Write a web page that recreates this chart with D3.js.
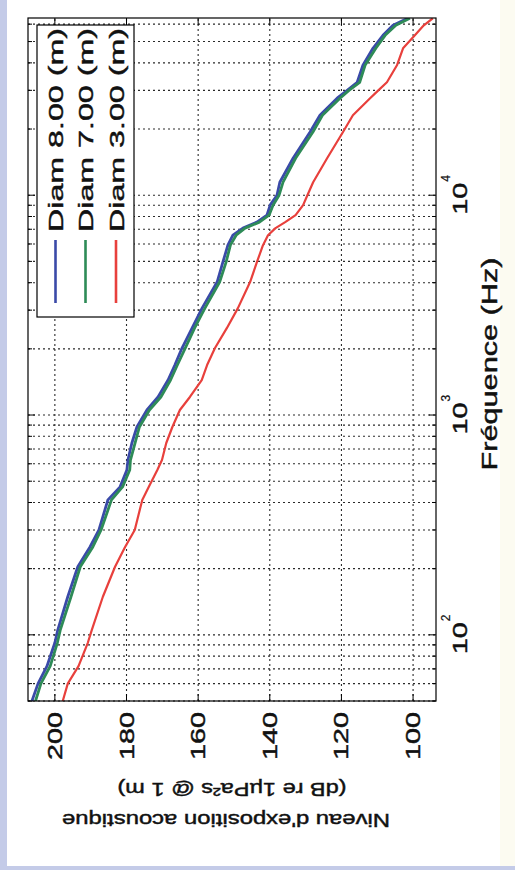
<!DOCTYPE html>
<html>
<head>
<meta charset="utf-8">
<script src="https://cdn.jsdelivr.net/npm/d3@7"></script>
<style>
  body { margin: 0; background: #fff; }
  svg { display: block; font-family: "Liberation Sans", Arial, sans-serif; }
  text { stroke: #111; stroke-width: 0.45px; }
</style>
</head>
<body>
<svg width="515" height="870"></svg>
<script>
// frequencies (Hz) shared by the three curves
let freqs = [50, 60, 72, 92, 105, 149, 204, 251, 300, 411, 471, 562, 624, 746, 882,
    1054, 1208, 1443, 1688, 2017, 2484, 3063, 4027, 4958, 5927, 6579, 7085, 7540,
    8110, 9010, 10000, 11460, 14730, 19330, 23100, 27620, 30000, 32640, 39000,
    46600, 53380, 59260, 63800];

// exposure level, dB re 1uPa^2s @ 1 m
let diam8 = [206.4, 204.7, 202.2, 200.0, 199.2, 196.4, 193.6, 190.2, 187.7, 185.2, 181.8,
    179.9, 179.6, 178.5, 177.1, 174.3, 171.2, 168.4, 166.5, 164.5, 161.7, 158.9, 154.7,
    153.1, 151.7, 150.3, 147.5, 143.6, 140.8, 139.9, 138.0, 137.2, 133.5, 128.8, 126.0,
    121.2, 118.4, 115.6, 114.0, 111.2, 108.4, 105.6, 101.5];
let diam7 = [205.4, 203.9, 201.3, 199.3, 198.5, 195.5, 192.9, 189.4, 187.1, 184.2, 181.1,
    179.1, 178.9, 177.6, 176.4, 173.6, 170.4, 167.7, 165.8, 163.6, 161.0, 158.1, 154.0,
    152.2, 151.0, 149.4, 146.9, 142.9, 140.2, 139.1, 137.4, 136.3, 132.8, 128.0, 125.3,
    120.4, 117.9, 114.9, 113.4, 110.4, 107.8, 104.8, 100.9];
let diam3 = [197.8, 196.4, 193.4, 190.8, 189.7, 186.6, 183.2, 180.4, 177.7, 175.6, 173.8,
    171.4, 170.1, 168.9, 167.2, 165.1, 162.3, 159.0, 157.5, 155.3, 152.0, 148.9, 145.5,
    143.6, 141.9, 140.5, 138.4, 135.7, 132.8, 130.7, 129.5, 127.9, 124.0, 119.6, 116.8,
    112.0, 109.7, 107.3, 104.5, 102.8, 99.5, 97.0, 94.5];

let seriesNames = ["Diam 8.00 (m)", "Diam 7.00 (m)", "Diam 3.00 (m)"];
let seriesColors = ["#3a4aa8", "#2e8b57", "#e8403c"];

let dbTicks = [100, 120, 140, 160, 180, 200];
let decades = [100, 1000, 10000];
let decadeExp = ["2", "3", "4"];

let xLabel = "Fréquence (Hz)";
let yLabel1 = "Niveau d'exposition acoustique";
let yLabel2 = "(dB re 1µPa²s @ 1 m)";

// plot drawn in its own frame, then turned a quarter turn
let W = 683, H = 408;

let x = d3.scaleLog().domain([50, 64000]).range([0, W]);
let y = d3.scaleLinear().domain([207.5, 93.6]).range([0, H]);

let svg = d3.select("svg");

// page background pieces
svg.append("rect").attr("x", 500).attr("y", 0).attr("width", 15).attr("height", 870).attr("fill", "#fcfbf1");
svg.append("rect").attr("x", 0).attr("y", 0).attr("width", 7).attr("height", 870).attr("fill", "#c4cbe8");
svg.append("rect").attr("x", 0).attr("y", 866).attr("width", 515).attr("height", 4).attr("fill", "#c4cbe8");

let g = svg.append("g").attr("transform", "translate(28,701) rotate(-90)");

g.append("rect").attr("width", W).attr("height", H).attr("fill", "#fff");

g.append("clipPath").attr("id", "clip")
    .append("rect").attr("width", W).attr("height", H);

// grid
let grid = g.append("g")
    .attr("stroke", "#2a2a2a")
    .attr("stroke-width", 1.1)
    .attr("stroke-dasharray", "2,3");

grid.selectAll(".gx")
    .data(x.ticks())
    .enter().append("line")
    .attr("x1", d => x(d)).attr("x2", d => x(d))
    .attr("y1", 0).attr("y2", H);

grid.selectAll(".gy")
    .data(dbTicks)
    .enter().append("line")
    .attr("x1", 0).attr("x2", W)
    .attr("y1", d => y(d)).attr("y2", d => y(d));

// tick marks, inside, all four sides
let ticks = g.append("g").attr("stroke", "#000").attr("stroke-width", 1);
x.ticks().forEach(t => {
    let len = decades.includes(t) ? 7 : 4;
    ticks.append("line").attr("x1", x(t)).attr("x2", x(t)).attr("y1", H).attr("y2", H - len);
    ticks.append("line").attr("x1", x(t)).attr("x2", x(t)).attr("y1", 0).attr("y2", len);
});
dbTicks.forEach(t => {
    ticks.append("line").attr("x1", 0).attr("x2", 7).attr("y1", y(t)).attr("y2", y(t));
    ticks.append("line").attr("x1", W).attr("x2", W - 7).attr("y1", y(t)).attr("y2", y(t));
});

// curves
let line = d3.line()
    .x((d, i) => x(freqs[i]))
    .y(d => y(d));

let series = [diam8, diam7, diam3];

g.append("g").attr("clip-path", "url(#clip)")
    .selectAll("path")
    .data(series)
    .enter().append("path")
    .attr("d", line)
    .attr("fill", "none")
    .attr("stroke", (d, i) => seriesColors[i])
    .attr("stroke-width", (d, i) => i == 2 ? 2.2 : 2.8)
    .attr("stroke-linejoin", "round");

g.append("rect")
    .attr("width", W).attr("height", H)
    .attr("fill", "none").attr("stroke", "#000").attr("stroke-width", 1.2);

// dB tick labels
g.selectAll(".ylab")
    .data(dbTicks)
    .enter().append("text")
    .attr("x", -11)
    .attr("y", d => y(d) + 7)
    .attr("text-anchor", "end")
    .attr("font-size", 20)
    .attr("textLength", 48)
    .attr("lengthAdjust", "spacingAndGlyphs")
    .attr("fill", "#111")
    .text(d => d);

// decade labels 10^n
decades.forEach((d, i) => {
    g.append("text")
        .attr("x", x(d) + 12.5)
        .attr("y", H + 31)
        .attr("text-anchor", "end")
        .attr("font-size", 21)
        .attr("textLength", 32)
        .attr("lengthAdjust", "spacingAndGlyphs")
        .attr("fill", "#111")
        .text("10");
    g.append("text")
        .attr("x", x(d) + 13.5)
        .attr("y", H + 14)
        .attr("font-size", 12)
        .attr("fill", "#111")
        .style("stroke-width", "0.2px")
        .text(decadeExp[i]);
});

g.append("text")
    .attr("x", 337)
    .attr("y", H + 61)
    .attr("text-anchor", "middle")
    .attr("font-size", 22)
    .attr("textLength", 213)
    .attr("lengthAdjust", "spacingAndGlyphs")
    .attr("fill", "#111")
    .text(xLabel);

g.append("text")
    .attr("transform", "translate(-113,198) rotate(-90)")
    .attr("text-anchor", "middle")
    .attr("font-size", 19)
    .attr("textLength", 328)
    .attr("lengthAdjust", "spacingAndGlyphs")
    .attr("fill", "#111")
    .text(yLabel1);

g.append("text")
    .attr("transform", "translate(-82,204) rotate(-90)")
    .attr("text-anchor", "middle")
    .attr("font-size", 19)
    .attr("textLength", 229)
    .attr("lengthAdjust", "spacingAndGlyphs")
    .attr("fill", "#111")
    .text(yLabel2);

// legend
let legend = g.append("g").attr("transform", "translate(384,9)");
legend.append("rect")
    .attr("width", 292).attr("height", 97)
    .attr("fill", "#fff").attr("stroke", "#000").attr("stroke-width", 1.2);

let rows = [18.5, 48.5, 79];
seriesNames.forEach((name, i) => {
    legend.append("line")
        .attr("x1", 14).attr("x2", 77)
        .attr("y1", rows[i]).attr("y2", rows[i])
        .attr("stroke", seriesColors[i]).attr("stroke-width", 2.6);
    legend.append("text")
        .attr("x", 85)
        .attr("y", rows[i] + 7.5)
        .attr("font-size", 21)
        .attr("textLength", 204)
        .attr("lengthAdjust", "spacingAndGlyphs")
        .attr("fill", "#111")
        .text(name);
});
</script>
</body>
</html>
